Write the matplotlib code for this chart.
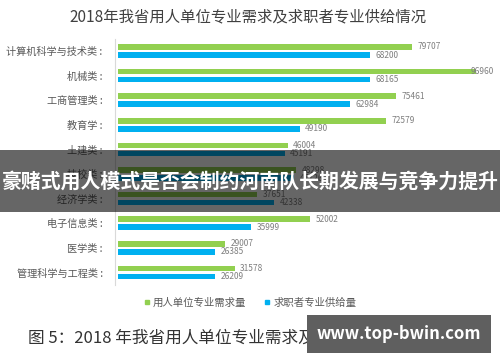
#!/usr/bin/env python3
# -*- coding: utf-8 -*-

import matplotlib
matplotlib.use("Agg")
import matplotlib.pyplot as plt
from matplotlib.lines import Line2D
from matplotlib.patches import Rectangle

plt.rcParams['font.family'] = ['Noto Sans CJK SC', 'DejaVu Sans']

# data
categories = ["计算机科学与技术类", "机械类", "工商管理类", "教育学", "土建类",
              "技校类", "经济学类", "电子信息类", "医学类", "管理科学与工程类"]
demand = [79707, 96960, 75461, 72579, 46004, 48298, 37651, 52002, 29007, 31578]
supply = [68200, 68165, 62984, 49190, 45191, 47726, 42338, 35999, 26385, 26209]

title = "2018年我省用人单位专业需求及求职者专业供给情况"
legend_labels = ["用人单位专业需求量", "求职者专业供给量"]
caption = "图 5：2018 年我省用人单位专业需求及求职者专业供给情况"
banner = "豪赌式用人模式是否会制约河南队长期发展与竞争力提升"
site = "www.top-bwin.com"

green = "#92D050"
blue = "#00B0F0"

fig = plt.figure(figsize=(5, 3.62), dpi=100)
ax = fig.add_axes([0.236, 0.2133, 0.738, 0.6798])

y = list(range(len(categories)))
off = 0.163
h = 0.23
ax.barh([i - off for i in y], demand, height=h, color=green)
ax.barh([i + off for i in y], supply, height=h, color=blue)

# value labels; the largest one sits over the end of its bar as in the original
for i in y:
    ax.text(min(demand[i] + 1500, 95500), i - off, str(demand[i]), va="center",
            ha="left", fontsize=6, color="#7f7f7f")
    ax.text(min(supply[i] + 1500, 95500), i + off, str(supply[i]), va="center",
            ha="left", fontsize=6, color="#7f7f7f")

ax.set_xlim(0, 100000)
ax.set_ylim(len(categories) - 0.5, -0.5)
ax.set_yticks(y)
ax.set_yticklabels([c + " :" for c in categories])
ax.tick_params(axis="y", length=0, pad=9, labelsize=7.3, labelcolor="#595959")
ax.set_xticks([])
for s in ["top", "right", "bottom"]:
    ax.spines[s].set_visible(False)
ax.spines["left"].set_color("#d9d9d9")
ax.spines["left"].set_position(("outward", 2))

fig.text(0.497, 1 - 17 / 362, title, ha="center", va="center",
         fontsize=11.1, color="#404040")

handles = [Line2D([], [], marker="s", color=green, linestyle="none", markersize=3.5),
           Line2D([], [], marker="s", color=blue, linestyle="none", markersize=3.5)]
fig.legend(handles, legend_labels, loc="center", bbox_to_anchor=(0.5, 1 - 303 / 362),
           ncol=2, frameon=False, fontsize=7.5, handlelength=0.6, handletextpad=0.3,
           columnspacing=1.7, labelcolor="#595959")

fig.text(28 / 500, 1 - 338 / 362, caption, ha="left", va="center",
         fontsize=12, color="#333333")

# overlays on top of the chart
fig.add_artist(Rectangle((0, 1 - 212 / 362), 1, 62 / 362, transform=fig.transFigure,
                         facecolor="black", alpha=0.6, edgecolor="none", zorder=10))
fig.text(0.5, 1 - 181 / 362, banner, ha="center", va="center", fontsize=14.3,
         fontweight="bold", color="white", zorder=11)

fig.add_artist(Rectangle((307 / 500, 1 - 353 / 362), 184 / 500, 38 / 362,
                         transform=fig.transFigure, facecolor="#5f5f5f",
                         edgecolor="none", zorder=10))
fig.text(399 / 500, 1 - 334 / 362, site, ha="center", va="center", fontsize=12,
         fontweight="bold", color="white", zorder=11)

fig.savefig("out.png", dpi=100)
plt.close(fig)
